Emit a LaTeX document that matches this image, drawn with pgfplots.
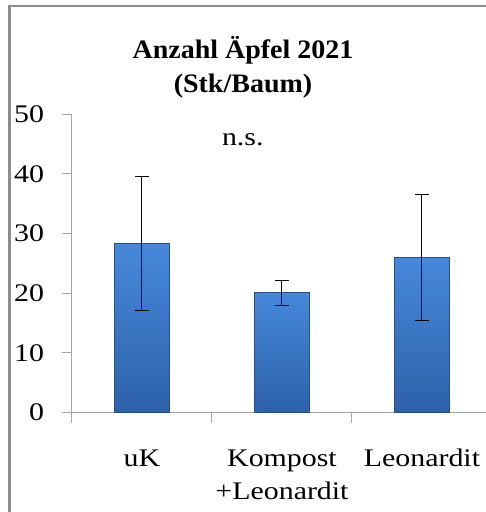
\documentclass[border=0pt]{standalone}
\usepackage{fontspec}
\setmainfont{LiberationSerif}[Extension=.ttf, UprightFont=*-Regular, BoldFont=*-Bold, ItalicFont=*-Italic, BoldItalicFont=*-BoldItalic, FakeStretch=1.18]
\newfontfamily\titlefont{LiberationSerif}[Extension=.ttf, UprightFont=*-Bold, FakeStretch=1.05]
\usepackage{pgfplots}
\pgfplotsset{compat=1.18}

\definecolor{bartop}{HTML}{4788DA}
\definecolor{barbottom}{HTML}{2D62AA}
\definecolor{barline}{HTML}{264F88}
\definecolor{axisgray}{HTML}{A6A6A6}
\definecolor{framegray}{HTML}{8C8C8C}

\newcommand{\chartfont}{\fontsize{19}{24.75}\selectfont}
\pgfplotsset{applebar/.style={ybar, bar width=41.25pt, bar shift=0pt,
  draw=barline, line width=0.9pt, top color=bartop, bottom color=barbottom}}

\begin{document}
\begin{tikzpicture}
\useasboundingbox (0,0) rectangle (364.5pt,384pt);
\clip (0,0) rectangle (364.5pt,384pt);
\draw[framegray, line width=2pt] (7pt,-5pt) -- (7pt,379.5pt) -- (380pt,379.5pt);
\node[font=\titlefont\fontsize{20}{20}\selectfont, anchor=base] at (182.25pt,339.75pt) {Anzahl Äpfel 2021};
\node[font=\titlefont\fontsize{20}{20}\selectfont, anchor=base] at (182.25pt,314.25pt) {(Stk/Baum)};
\begin{axis}[
  at={(54pt,74.5pt)}, anchor=south west,
  scale only axis, width=315pt, height=223.8pt,
  xmin=-0.5, xmax=2.5, ymin=0, ymax=50,
  enlargelimits=false, clip=false,
  axis x line*=bottom, axis y line*=left,
  axis line style={axisgray, line width=0.75pt},
  tick style={axisgray, line width=0.75pt},
  tick align=outside,
  major tick length=7.5pt,
  ytick={0,10,...,50},
  yticklabel style={xshift=-10pt},
  xtick={-0.5,0.5,1.5,2.5},
  xticklabels={},
  extra x ticks={0,1,2},
  extra x tick labels={uK, {\begin{tabular}[t]{@{}c@{}}Kompost\\+Leonardit\end{tabular}}, Leonardit},
  extra x tick style={major tick length=0pt,
    xticklabel style={anchor=base, yshift=-40pt}},
  ticklabel style={font=\chartfont, black},
  /pgf/number format/assume math mode=true,
]
\addplot[applebar] coordinates {(0,28.3)};
\addplot[applebar] coordinates {(1,20.2)};
\addplot[applebar] coordinates {(2,26.0)};
\addplot[draw=none, mark=none,
  error bars/.cd, y dir=both, y explicit,
  error bar style={black, line width=0.75pt},
  error mark options={rotate=90, black, mark size=5.25pt, line width=0.75pt}]
  coordinates {(0,28.4) +- (0,11.2) (1,20.1) +- (0,2.1) (2,26.0) +- (0,10.5)};
\node[font=\chartfont, anchor=base] at (axis cs:0.72,44.8) {n.s.};
\end{axis}
\end{tikzpicture}
\end{document}
